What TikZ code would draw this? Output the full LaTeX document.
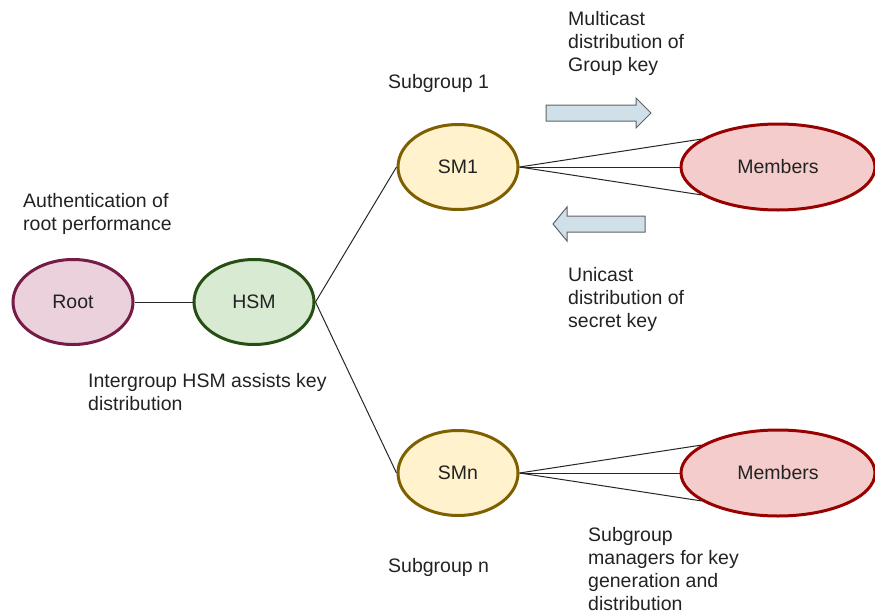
\documentclass[tikz,border=0pt]{standalone}
\usepackage{fontspec}
\setmainfont{Liberation Sans}
\usetikzlibrary{shapes.geometric}
\definecolor{rootfill}{HTML}{EAD1DC}
\definecolor{rootdraw}{HTML}{741B47}
\definecolor{hsmfill}{HTML}{D9EAD3}
\definecolor{hsmdraw}{HTML}{274E13}
\definecolor{smfill}{HTML}{FFF2CC}
\definecolor{smdraw}{HTML}{7F6000}
\definecolor{memfill}{HTML}{F4CCCC}
\definecolor{memdraw}{HTML}{990000}
\definecolor{arrfill}{HTML}{D0E0E8}
\definecolor{arrdraw}{HTML}{5F6368}
\definecolor{txt}{HTML}{222222}
\begin{document}
\begin{tikzpicture}[x=1pt,y=-1pt,
  every node/.style={font=\fontsize{19.5}{23}\selectfont, text=txt},
  ell/.style={ellipse, line width=3pt, minimum width=120pt, minimum height=85pt, inner sep=0pt},
  rootnode/.style={ell, draw=rootdraw, fill=rootfill},
  hsmnode/.style={ell, draw=hsmdraw, fill=hsmfill},
  smnode/.style={ell, draw=smdraw, fill=smfill},
  memnode/.style={ell, draw=memdraw, fill=memfill, minimum width=194pt, minimum height=86pt},
  link/.style={draw=black!85, line width=1pt},
  bigarrow/.style={draw=arrdraw, fill=arrfill, line width=1pt, line join=miter},
  lbl/.style={align=left, anchor=base west, inner sep=0pt}
]
\useasboundingbox (0,0) rectangle (875,613);

\node[rootnode] (root) at (73,302) {Root};
\node[hsmnode] (hsm) at (254,302) {HSM};
\node[smnode] (sm1) at (458,167) {SM1};
\node[smnode] (smn) at (458,473) {SMn};
\node[memnode] (m1) at (778,167) {Members};
\node[memnode] (mn) at (778,473) {Members};

\draw[link] (root) -- (hsm);
\draw[link] (hsm.east) -- (sm1.west);
\draw[link] (hsm.east) -- (smn.west);
\draw[link] (sm1.east) -- (m1.160);
\draw[link] (sm1.east) -- (m1.west);
\draw[link] (sm1.east) -- (m1.200);
\draw[link] (smn.east) -- (mn.160);
\draw[link] (smn.east) -- (mn.west);
\draw[link] (smn.east) -- (mn.200);

% block arrows
\draw[bigarrow] (546,105) -- (636,105) -- (636,98) -- (651,113) -- (636,128) -- (636,121) -- (546,121) -- cycle;
\draw[bigarrow] (645,216) -- (567,216) -- (567,207) -- (553,224) -- (567,241) -- (567,232) -- (645,232) -- cycle;

% multi-line labels: anchor is the baseline of the last line
\node[lbl] (multi) at (568,71) {Multicast\\distribution of\\Group key};
\node[lbl] (sub1) at (388,88) {Subgroup 1};
\node[lbl] (auth) at (23,230) {Authentication of\\root performance};
\node[lbl] (uni) at (568,327) {Unicast\\distribution of\\secret key};
\node[lbl] (inter) at (88,410) {Intergroup HSM assists key\\distribution};
\node[lbl] (mgr) at (588,610) {Subgroup\\managers for key\\generation and\\distribution};
\node[lbl] (subn) at (388,572) {Subgroup n};
\end{tikzpicture}
\end{document}
